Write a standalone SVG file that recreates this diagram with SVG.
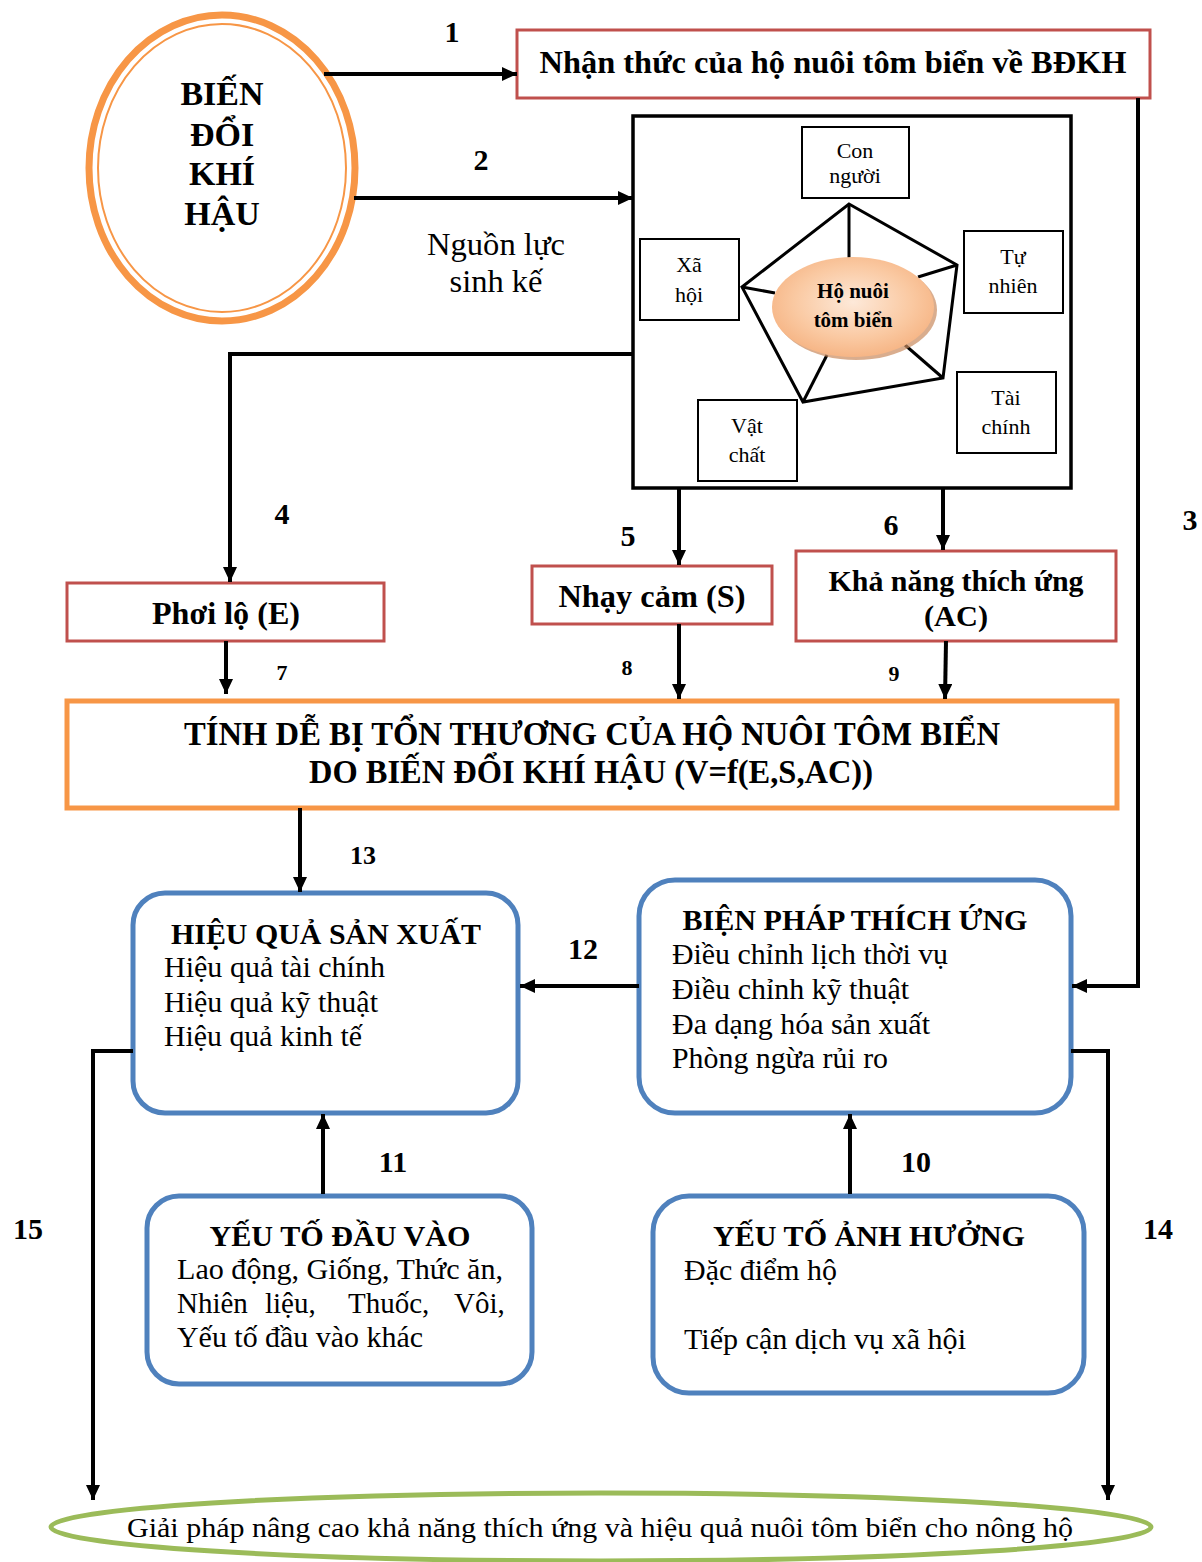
<svg xmlns="http://www.w3.org/2000/svg" width="1202" height="1562" viewBox="0 0 1202 1562">
  <style>
    text { font-family: "Liberation Serif", "Times New Roman", serif; fill: #000; }
    .b { font-weight: bold; }
    .c { text-anchor: middle; }
    .body { font-size: 29px; }
    .num { font-weight: bold; font-size: 30px; text-anchor: middle; }
    .numS { font-weight: bold; font-size: 22px; text-anchor: middle; }
    .red { fill: #fff; stroke: #C0504D; stroke-width: 3; }
    .blue { fill: #fff; stroke: #4F81BD; stroke-width: 5; }
    .small { fill: #fff; stroke: #000; stroke-width: 2; }
    .arr { fill: none; stroke: #000; stroke-width: 4; marker-end: url(#ah); }
    .pent { fill: none; stroke: #000; stroke-width: 3; stroke-linejoin: miter; }
  </style>
  <defs>
    <marker id="ah" markerUnits="userSpaceOnUse" markerWidth="16" markerHeight="16" refX="15" refY="7" orient="auto">
      <path d="M0,0 L15,7 L0,14 z" fill="#000"/>
    </marker>
    <radialGradient id="peach" cx="50%" cy="45%" r="60%">
      <stop offset="0" stop-color="#FDE9D9"/>
      <stop offset="0.6" stop-color="#FAC9A2"/>
      <stop offset="1" stop-color="#F5B07E"/>
    </radialGradient>
  </defs>

  <rect x="0" y="0" width="1202" height="1562" fill="#fff"/>

  <!-- climate change circle -->
  <g id="bdkh">
    <ellipse cx="222" cy="168" rx="133" ry="153" fill="#fff" stroke="#F79646" stroke-width="7"/>
    <ellipse cx="222" cy="168" rx="124" ry="144" fill="none" stroke="#F79646" stroke-width="2"/>
    <text class="b c" x="222" y="105" font-size="34">BIẾN</text>
    <text class="b c" x="222" y="146" font-size="34">ĐỔI</text>
    <text class="b c" x="222" y="185" font-size="34">KHÍ</text>
    <text class="b c" x="222" y="225" font-size="34">HẬU</text>
  </g>

  <!-- awareness -->
  <g id="nhanthuc">
    <rect class="red" x="517" y="30" width="633" height="68"/>
    <text class="b c" x="833" y="73" font-size="31" textLength="587" lengthAdjust="spacingAndGlyphs">Nhận thức của hộ nuôi tôm biển về BĐKH</text>
  </g>

  <!-- livelihood resources -->
  <g id="nguonluc">
    <text class="c" x="496" y="255" font-size="31" textLength="138" lengthAdjust="spacingAndGlyphs">Nguồn lực</text>
    <text class="c" x="496" y="292" font-size="31" textLength="93" lengthAdjust="spacingAndGlyphs">sinh kế</text>
    <rect x="633" y="116" width="438" height="372" fill="#fff" stroke="#000" stroke-width="3.5"/>
    <!-- pentagon frame and spokes -->
    <polygon class="pent" points="849,204 957,265 943,378 803,402 742,287"/>
    <line class="pent" x1="849" y1="204" x2="849" y2="258"/>
    <line class="pent" x1="742" y1="287" x2="775" y2="293"/>
    <line class="pent" x1="957" y1="265" x2="918" y2="277"/>
    <line class="pent" x1="943" y1="378" x2="905" y2="345"/>
    <line class="pent" x1="803" y1="402" x2="827" y2="355"/>
    <g id="honuoi">
      <ellipse cx="856" cy="310" rx="81" ry="50" fill="#C98A5E" opacity="0.7"/>
      <ellipse cx="853" cy="307" rx="81" ry="50" fill="url(#peach)"/>
      <text class="b c" x="853" y="298" font-size="21">Hộ nuôi</text>
      <text class="b c" x="853" y="327" font-size="21">tôm biển</text>
    </g>
    <g id="connguoi">
      <rect class="small" x="802" y="127" width="107" height="71"/>
      <text class="c" x="855" y="158" font-size="22">Con</text>
      <text class="c" x="855" y="183" font-size="22">người</text>
    </g>
    <g id="xahoi">
      <rect class="small" x="640" y="239" width="99" height="81"/>
      <text class="c" x="689" y="272" font-size="22">Xã</text>
      <text class="c" x="689" y="302" font-size="22">hội</text>
    </g>
    <g id="tunhien">
      <rect class="small" x="964" y="231" width="99" height="82"/>
      <text class="c" x="1013" y="264" font-size="22">Tự</text>
      <text class="c" x="1013" y="293" font-size="22">nhiên</text>
    </g>
    <g id="taichinh">
      <rect class="small" x="957" y="372" width="99" height="81"/>
      <text class="c" x="1006" y="405" font-size="22">Tài</text>
      <text class="c" x="1006" y="434" font-size="22">chính</text>
    </g>
    <g id="vatchat">
      <rect class="small" x="698" y="400" width="99" height="81"/>
      <text class="c" x="747" y="433" font-size="22">Vật</text>
      <text class="c" x="747" y="462" font-size="22">chất</text>
    </g>
  </g>

  <!-- E, S, AC -->
  <g id="phoilo">
    <rect class="red" x="67" y="583" width="317" height="58"/>
    <text class="b c" x="226" y="624" font-size="31" textLength="148" lengthAdjust="spacingAndGlyphs">Phơi lộ (E)</text>
  </g>
  <g id="nhaycam">
    <rect class="red" x="532" y="566" width="240" height="58"/>
    <text class="b c" x="652" y="607" font-size="31" textLength="187" lengthAdjust="spacingAndGlyphs">Nhạy cảm (S)</text>
  </g>
  <g id="khanang">
    <rect class="red" x="796" y="551" width="320" height="90"/>
    <text class="b c" x="956" y="591" font-size="30" textLength="255" lengthAdjust="spacingAndGlyphs">Khả năng thích ứng</text>
    <text class="b c" x="956" y="626" font-size="30" textLength="64" lengthAdjust="spacingAndGlyphs">(AC)</text>
  </g>

  <!-- vulnerability -->
  <g id="tonthuong">
    <rect x="67" y="701" width="1050" height="107" fill="#fff" stroke="#F79646" stroke-width="5"/>
    <text class="b c" x="592" y="745" font-size="34" textLength="816" lengthAdjust="spacingAndGlyphs">TÍNH DỄ BỊ TỔN THƯƠNG CỦA HỘ NUÔI TÔM BIỂN</text>
    <text class="b c" x="591" y="783" font-size="34" textLength="564" lengthAdjust="spacingAndGlyphs">DO BIẾN ĐỔI KHÍ HẬU (V=f(E,S,AC))</text>
  </g>

  <!-- production efficiency -->
  <g id="hieuqua">
    <rect class="blue" x="133" y="893" width="385" height="220" rx="32"/>
    <text class="b c" x="326" y="944" font-size="29" textLength="310" lengthAdjust="spacingAndGlyphs">HIỆU QUẢ SẢN XUẤT</text>
    <text class="body" x="164" y="977" textLength="221" lengthAdjust="spacingAndGlyphs">Hiệu quả tài chính</text>
    <text class="body" x="164" y="1012" textLength="214" lengthAdjust="spacingAndGlyphs">Hiệu quả kỹ thuật</text>
    <text class="body" x="164" y="1046" textLength="198" lengthAdjust="spacingAndGlyphs">Hiệu quả kinh tế</text>
  </g>

  <!-- adaptation measures -->
  <g id="bienphap">
    <rect class="blue" x="639" y="880" width="432" height="233" rx="36"/>
    <text class="b c" x="855" y="930" font-size="29" textLength="345" lengthAdjust="spacingAndGlyphs">BIỆN PHÁP THÍCH ỨNG</text>
    <text class="body" x="672" y="964" textLength="276" lengthAdjust="spacingAndGlyphs">Điều chỉnh lịch thời vụ</text>
    <text class="body" x="672" y="999" textLength="237" lengthAdjust="spacingAndGlyphs">Điều chỉnh kỹ thuật</text>
    <text class="body" x="672" y="1034" textLength="258" lengthAdjust="spacingAndGlyphs">Đa dạng hóa sản xuất</text>
    <text class="body" x="672" y="1068" textLength="216" lengthAdjust="spacingAndGlyphs">Phòng ngừa rủi ro</text>
  </g>

  <!-- inputs -->
  <g id="dauvao">
    <rect class="blue" x="147" y="1196" width="385" height="188" rx="32"/>
    <text class="b c" x="340" y="1246" font-size="29" textLength="261" lengthAdjust="spacingAndGlyphs">YẾU TỐ ĐẦU VÀO</text>
    <text class="body" x="177" y="1279" textLength="326" lengthAdjust="spacingAndGlyphs">Lao động, Giống, Thức ăn,</text>
    <text class="body" y="1313"><tspan x="177">Nhiên</tspan> <tspan x="265">liệu,</tspan> <tspan x="348">Thuốc,</tspan> <tspan x="454">Vôi,</tspan></text>
    <text class="body" x="177" y="1347" textLength="246" lengthAdjust="spacingAndGlyphs">Yếu tố đầu vào khác</text>
  </g>

  <!-- influencing factors -->
  <g id="anhhuong">
    <rect class="blue" x="653" y="1196" width="431" height="197" rx="36"/>
    <text class="b c" x="869" y="1246" font-size="29" textLength="312" lengthAdjust="spacingAndGlyphs">YẾU TỐ ẢNH HƯỞNG</text>
    <text class="body" x="684" y="1280" textLength="153" lengthAdjust="spacingAndGlyphs">Đặc điểm hộ</text>
    <text class="body" x="684" y="1349" textLength="282" lengthAdjust="spacingAndGlyphs">Tiếp cận dịch vụ xã hội</text>
  </g>

  <!-- solutions -->
  <g id="giaiphap">
    <ellipse cx="601" cy="1527" rx="550" ry="34" fill="#fff" stroke="#9BBB59" stroke-width="5"/>
    <text class="c" x="600" y="1537" font-size="28" textLength="946" lengthAdjust="spacingAndGlyphs">Giải pháp nâng cao khả năng thích ứng và hiệu quả nuôi tôm biển cho nông hộ</text>
  </g>

  <!-- connectors -->
  <g id="connectors">
    <line class="arr" x1="324" y1="74" x2="517" y2="74"/>
    <line class="arr" x1="354" y1="198" x2="633" y2="198"/>
    <polyline class="arr" points="1138,98 1138,986 1072,986"/>
    <polyline class="arr" points="633,354 230,354 230,582"/>
    <line class="arr" x1="679" y1="488" x2="679" y2="565"/>
    <line class="arr" x1="943" y1="488" x2="943" y2="550"/>
    <line class="arr" x1="226" y1="641" x2="226" y2="694"/>
    <line class="arr" x1="679" y1="624" x2="679" y2="699"/>
    <line class="arr" x1="946" y1="641" x2="945" y2="699"/>
    <line class="arr" x1="300" y1="808" x2="300" y2="892"/>
    <line class="arr" x1="639" y1="986" x2="520" y2="986"/>
    <line class="arr" x1="323" y1="1194" x2="323" y2="1114"/>
    <line class="arr" x1="850" y1="1194" x2="850" y2="1114"/>
    <polyline class="arr" points="133,1051 93,1051 93,1500"/>
    <polyline class="arr" points="1071,1051 1108,1051 1108,1500"/>
  </g>

  <!-- connector numbers -->
  <g id="labels">
    <text class="num" x="452" y="42">1</text>
    <text class="num" x="481" y="170">2</text>
    <text class="num" x="1190" y="530">3</text>
    <text class="num" x="282" y="524">4</text>
    <text class="num" x="628" y="546">5</text>
    <text class="num" x="891" y="535">6</text>
    <text class="numS" x="282" y="680">7</text>
    <text class="numS" x="627" y="675">8</text>
    <text class="numS" x="894" y="681">9</text>
    <text class="num" x="916" y="1172">10</text>
    <text class="num" x="393" y="1172">11</text>
    <text class="num" x="583" y="959">12</text>
    <text class="b c" x="363" y="864" font-size="26">13</text>
    <text class="num" x="1158" y="1239">14</text>
    <text class="num" x="28" y="1239">15</text>
  </g>
</svg>
